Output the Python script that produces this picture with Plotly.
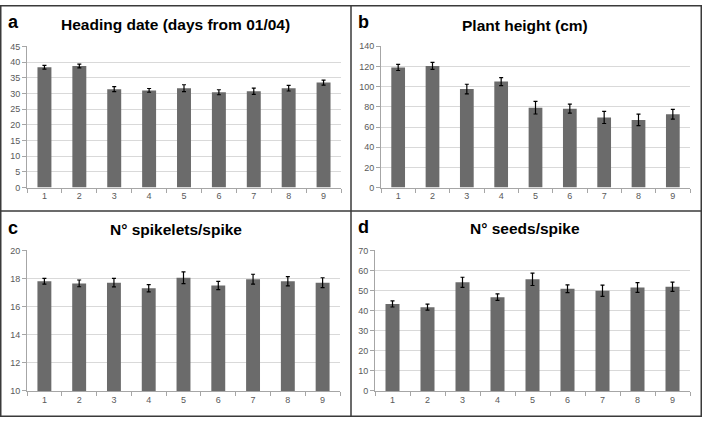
import plotly.graph_objects as go

categories = ["1", "2", "3", "4", "5", "6", "7", "8", "9"]

heading_vals = [38.4, 38.8, 31.4, 31.0, 31.7, 30.4, 30.7, 31.7, 33.5]
heading_err = [0.6, 0.6, 0.8, 0.6, 1.1, 0.8, 1.0, 0.9, 0.8]

height_vals = [119, 120.6, 97.6, 105, 79.2, 78.2, 69.5, 67, 72.7]
height_err = [3.0, 3.5, 4.8, 3.9, 6.3, 4.5, 6.0, 5.7, 4.8]

spikelets_vals = [17.8, 17.65, 17.7, 17.3, 18.05, 17.5, 17.95, 17.8, 17.7]
spikelets_err = [0.2, 0.24, 0.3, 0.26, 0.42, 0.3, 0.35, 0.33, 0.35]

seeds_vals = [43.3, 41.7, 54.1, 46.7, 55.6, 50.9, 49.9, 51.5, 51.9]
seeds_err = [1.5, 1.5, 2.5, 1.6, 3.1, 1.9, 2.8, 2.4, 2.3]

titles = ["Heading date (days from 01/04)", "Plant height (cm)",
          "N° spikelets/spike", "N° seeds/spike"]
letters = ["a", "b", "c", "d"]
y_ranges = [[0, 45], [0, 140], [10, 20], [0, 70]]
y_dticks = [5, 20, 2, 10]

W, H = 702, 422
BAR = "#6b6b6b"
GRID = "#d9d9d9"
AXIS = "#a6a6a6"
TICKF = "#595959"

# pixel boxes of plot areas: (x0, x1, ytop, ybottom)
boxes = [(27, 341, 42.5, 187), (381, 690, 42.3, 187),
         (27, 340, 251.3, 395.3), (375, 690, 251.3, 395.3)]
title_pos = [(175, 20), (525, 21), (176, 230), (525, 229)]
letter_pos = [(13, 17), (363, 17), (13, 228), (363, 227)]

series = [(heading_vals, heading_err), (height_vals, height_err),
          (spikelets_vals, spikelets_err), (seeds_vals, seeds_err)]

fig = go.Figure()
annotations = []
for i, ((vals, errs), box) in enumerate(zip(series, boxes)):
    n = "" if i == 0 else str(i + 1)
    fig.add_trace(go.Bar(
        x=categories, y=vals,
        error_y=dict(type="data", array=errs, color="black", thickness=1.2, width=2),
        marker=dict(color=BAR, line=dict(width=0)),
        xaxis="x" + n, yaxis="y" + n, showlegend=False,
    ))
    x0, x1, yt, yb = box
    common = dict(showline=True, linecolor=AXIS, linewidth=1, ticks="outside",
                  tickcolor=AXIS, ticklen=4,
                  tickfont=dict(family="Liberation Sans, Arial, sans-serif", size=9, color=TICKF))
    fig.update_layout(**{
        "xaxis" + n: dict(domain=[x0 / W, x1 / W], anchor="y" + n, type="category",
                          tickson="boundaries", showgrid=False, range=[-0.5, 8.5], **common),
        "yaxis" + n: dict(domain=[1 - yb / H, 1 - yt / H], anchor="x" + n,
                          range=y_ranges[i], dtick=y_dticks[i], showgrid=True,
                          gridcolor=GRID, gridwidth=1, zeroline=False, **common),
    })
    tx, ty = title_pos[i]
    annotations.append(dict(x=tx / W, y=1 - ty / H, xref="paper", yref="paper",
                            text="<b>" + titles[i] + "</b>", showarrow=False,
                            xanchor="center", yanchor="middle",
                            font=dict(family="Liberation Sans, Arial, sans-serif",
                                      size=15.5, color="black")))
    lx, ly = letter_pos[i]
    annotations.append(dict(x=lx / W, y=1 - ly / H, xref="paper", yref="paper",
                            text="<b>" + letters[i] + "</b>", showarrow=False,
                            xanchor="center", yanchor="middle",
                            font=dict(family="Liberation Sans, Arial, sans-serif",
                                      size=18, color="black")))

FRAME = "#3a3a3a"
shapes = [
    dict(type="rect", xref="paper", yref="paper", x0=0.75 / W, x1=1 - 0.75 / W,
         y0=0.75 / H, y1=1 - 0.75 / H, line=dict(color=FRAME, width=1.5)),
    dict(type="line", xref="paper", yref="paper", x0=351 / W, x1=351 / W,
         y0=0, y1=1, line=dict(color=FRAME, width=1.5)),
    dict(type="line", xref="paper", yref="paper", x0=0, x1=1,
         y0=1 - 211 / H, y1=1 - 211 / H, line=dict(color=FRAME, width=1.5)),
]

fig.update_layout(width=W, height=H, margin=dict(l=0, r=0, t=0, b=0),
                  paper_bgcolor="white", plot_bgcolor="white", bargap=0.6,
                  annotations=annotations, shapes=shapes)

fig.write_html("out.html", config={"displayModeBar": False},
               post_script="document.body.style.margin='0';")
